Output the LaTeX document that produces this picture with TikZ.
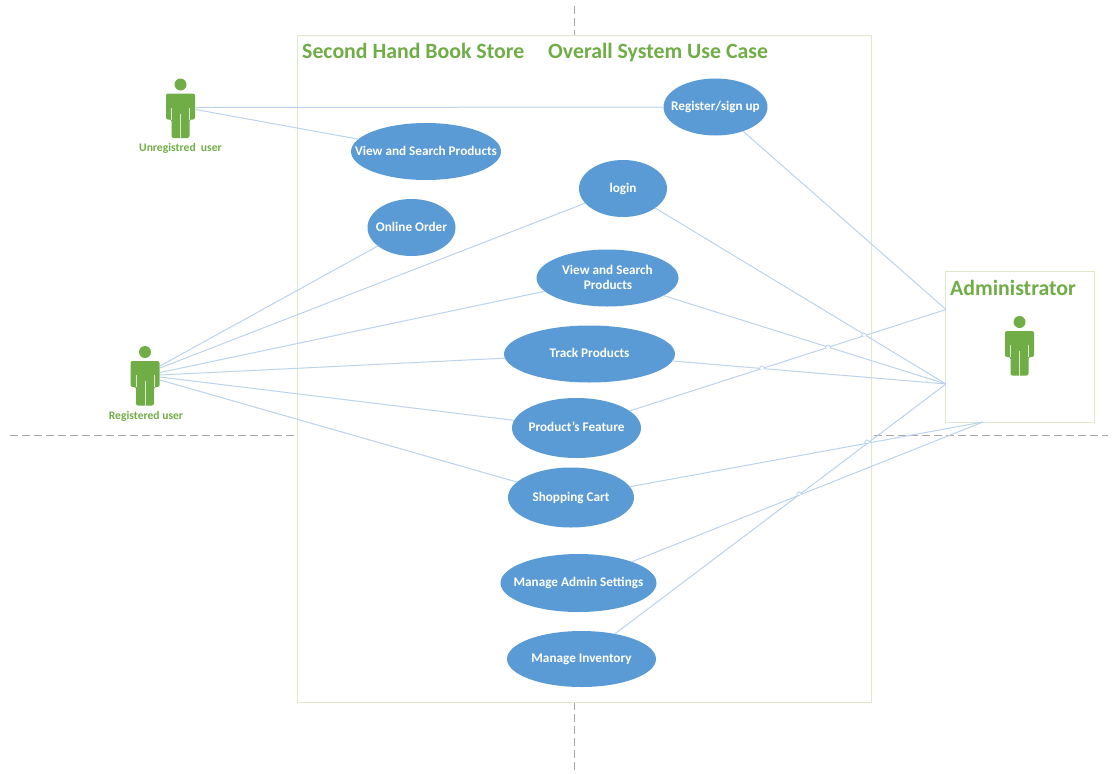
\documentclass[tikz,border=0pt]{standalone}
\usepackage{fontspec}
\setmainfont{Carlito}
\usetikzlibrary{shapes.geometric}
\definecolor{grn}{HTML}{70AD47}
\definecolor{bordergrn}{HTML}{DDE8CF}
\definecolor{ellblue}{HTML}{5B9BD5}
\definecolor{linkblue}{HTML}{BBD3EC}
\definecolor{dashgray}{HTML}{A6A6A6}
\newcommand{\uctext}[1]{\raisebox{-7.3pt}{\smash{\makebox[0pt][c]{#1}}}}
\tikzset{
  usecase/.style={ellipse,fill=ellblue,draw=none,inner sep=0pt,outer sep=0pt,text=white,font=\bfseries\fontsize{13.2}{15.5}\selectfont,align=center},
  sysbox/.style={draw=bordergrn,fill=white,line width=1pt,inner sep=0pt,outer sep=0pt,anchor=north west},
  link/.style={draw=linkblue,line width=1pt},
  hop/.style={draw=linkblue,line width=0.8pt,fill=white},
  guide/.style={draw=dashgray,line width=0.7pt,dash pattern=on 8pt off 4pt},
  titletext/.style={text=grn,font=\bfseries\fontsize{21.8}{25}\selectfont,inner sep=0pt,anchor=base west},
  actortext/.style={text=grn,font=\bfseries\fontsize{11.6}{13}\selectfont,inner sep=0pt},
  pics/actorfig/.style={code={
    \fill[grn] (0,0) circle (6);
    \fill[grn,rounded corners=2pt] (-14.5,9) -- (14.5,9) -- (14.5,35) -- (9,35) -- (9,53.5) -- (-9,53.5) -- (-9,35) -- (-14.5,35) -- cycle;
    \draw[white,line width=0.6pt,opacity=.75] (-9,23) -- (-9,35) (9,23) -- (9,35) (0,29) -- (0,53.5);
  }}
}
\begin{document}
\begin{tikzpicture}[x=1pt,y=-1pt]
\useasboundingbox (0,0) rectangle (1112,774);
% guides
\coordinate (gt) at (574.5,6); \coordinate (gb) at (574.5,774);
\coordinate (gl) at (10,435.5); \coordinate (gr) at (1108,435.5);
\draw[guide] (gt) -- (gb);
\draw[guide] (gl) -- (gr);
% boxes
\node[sysbox,minimum width=574pt,minimum height=667pt] (system) at (297.5,35.5) {};
\node[sysbox,minimum width=148.5pt,minimum height=151pt] (adminbox) at (945.5,271.5) {};
% titles
\node[titletext] (t1) at (302,58.8) {Second Hand Book Store};
\node[titletext] (t2) at (548,58.8) {Overall System Use Case};
\node[titletext] (t3) at (950,295.8) {Administrator};
% use cases
\node[usecase,minimum width=104pt,minimum height=57pt] (reg) at (715.5,107) {\uctext{Register/sign up}};
\node[usecase,minimum width=150pt,minimum height=57pt] (view1) at (426,151.5) {\uctext{View and Search Products}};
\node[usecase,minimum width=88pt,minimum height=57pt] (login) at (623,188.5) {\uctext{login}};
\node[usecase,minimum width=88pt,minimum height=57pt] (order) at (411.5,227.5) {\uctext{Online Order}};
\node[usecase,minimum width=142pt,minimum height=57pt] (view2) at (607.5,278) {\uctext{\raisebox{7.5pt}{\makebox[0pt][c]{View and Search}}}\uctext{\raisebox{-7.5pt}{\makebox[0pt][c]{\hspace{1pt}Products}}}};
\node[usecase,minimum width=171pt,minimum height=57pt] (track) at (589.5,354) {\uctext{Track Products}};
\node[usecase,minimum width=129pt,minimum height=60pt] (feature) at (576.5,428) {\uctext{Product's Feature}};
\node[usecase,minimum width=126pt,minimum height=60pt] (cart) at (571,497.5) {\uctext{Shopping Cart}};
\node[usecase,minimum width=156pt,minimum height=58pt] (settings) at (578.5,583) {\uctext{Manage Admin Settings}};
\node[usecase,minimum width=149pt,minimum height=56pt] (inventory) at (581.5,659) {\uctext{Manage Inventory}};
% actors
\pic at (180.5,84.5) {actorfig};
\pic at (145,352) {actorfig};
\pic at (1019.5,322) {actorfig};
\node[actortext] (ulabel) at (180.5,148.5) {Unregistred\ \ user};
\node[actortext] (rlabel) at (146,416) {Registered user};
% connector ends
\coordinate (ua) at (195.5,107.5);
\coordinate (ub) at (195.5,109.5);
\coordinate (r1) at (160,366);
\coordinate (r2) at (160,368);
\coordinate (r3) at (160,372.5);
\coordinate (r4) at (160,375);
\coordinate (r5) at (160,377);
\coordinate (r6) at (160,380);
\coordinate (ad1) at (946,309.5);
\coordinate (ad2) at (946,384);
\coordinate (ad3) at (983,422);
% connectors
\draw[link] (ua) -- (reg);
\draw[link] (ub) -- (view1);
\draw[link] (r1) -- (order);
\draw[link] (r2) -- (login);
\draw[link] (r3) -- (view2);
\draw[link] (r4) -- (track);
\draw[link] (r5) -- (feature);
\draw[link] (r6) -- (cart);
\draw[link] (reg) -- (ad1);
\draw[link] (login) -- (ad2);
\draw[link] (view2) -- (ad2);
\draw[link] (track) -- (ad2);
\draw[link] (feature) -- (ad1);
\draw[link] (cart) -- (ad3);
\draw[link] (settings) -- (ad3);
\draw[link] (inventory) -- (ad2);
% line hops
\foreach \hx/\hy in {864/335,828/347,762/368,867/442,799/494}
  \draw[hop] (\hx-2.5,\hy+0.8) .. controls (\hx-1.5,\hy-3) and (\hx+1.5,\hy-3) .. (\hx+2.5,\hy+0.8);
\end{tikzpicture}
\end{document}
